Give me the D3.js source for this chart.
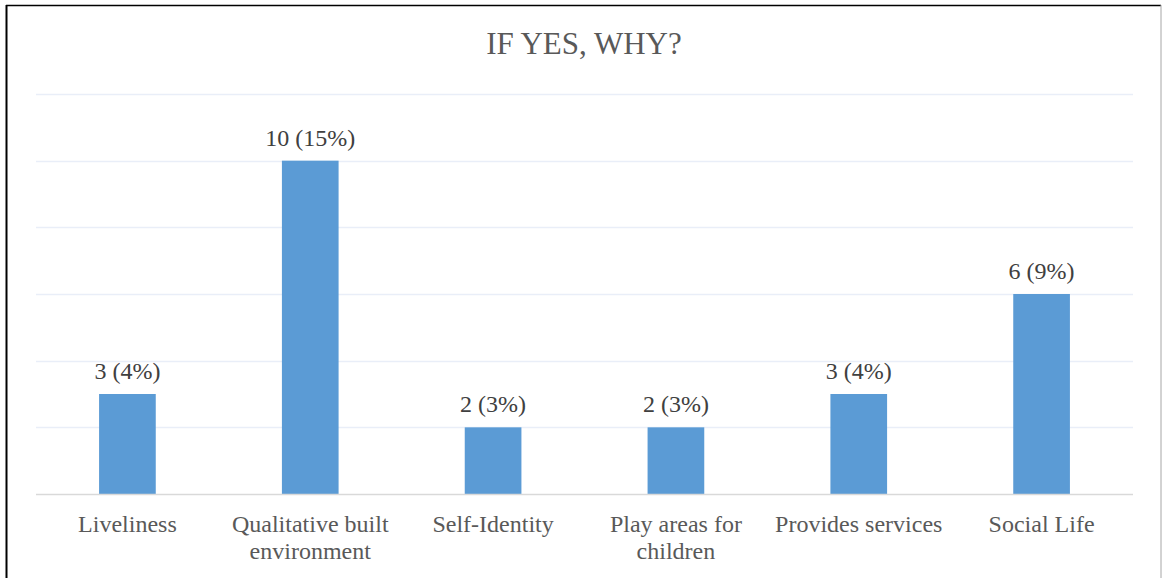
<!DOCTYPE html>
<html>
<head>
<meta charset="utf-8">
<script src="https://cdn.jsdelivr.net/npm/d3@7"></script>
<style>
  html, body { margin: 0; padding: 0; background: #fff; }
  svg { display: block; }
  svg text { font-family: "Liberation Serif", "Times New Roman", Times, "DejaVu Serif", serif; }
</style>
</head>
<body>
<script>
// Reasons given for answering "yes"
const categories = [
  ["Liveliness"],
  ["Qualitative built", "environment"],
  ["Self-Identity"],
  ["Play areas for", "children"],
  ["Provides services"],
  ["Social Life"]
];
const counts = [3, 10, 2, 2, 3, 6];
const percents = ["4%", "15%", "3%", "3%", "4%", "9%"];
const gridTicks = [0, 2, 4, 6, 8, 10, 12];
const title = "IF YES, WHY?";

const W = 1162, H = 578;
const margin = { left: 36, right: 29, top: 94, bottom: 84 };

const svg = d3.select("body").append("svg")
  .attr("width", W).attr("height", H);

// chart frame
svg.append("line").attr("x1", 6.5).attr("x2", 6.5).attr("y1", 5).attr("y2", H)
  .attr("stroke", "#000").attr("stroke-width", 2);
svg.append("line").attr("x1", 6).attr("x2", 1161).attr("y1", 5.5).attr("y2", 5.5)
  .attr("stroke", "#000").attr("stroke-width", 1.5);
svg.append("line").attr("x1", 1161).attr("x2", 1161).attr("y1", 5).attr("y2", H)
  .attr("stroke", "#a6a6a6").attr("stroke-width", 1);

const x = d3.scaleBand()
  .domain(d3.range(categories.length))
  .range([margin.left, W - margin.right])
  .paddingInner(0.69).paddingOuter(0.345);

const y = d3.scaleLinear()
  .domain([0, 12])
  .range([H - margin.bottom, margin.top]);

// title
svg.append("text")
  .attr("x", W / 2 + 3).attr("y", 54)
  .attr("text-anchor", "middle")
  .attr("font-size", 31)
  .attr("fill", "#595959")
  .text(title);

// horizontal gridlines
svg.append("g").selectAll("line")
  .data(gridTicks.filter(d => d > 0))
  .join("line")
  .attr("x1", margin.left).attr("x2", W - margin.right)
  .attr("y1", d => Math.round(y(d)) + 0.5).attr("y2", d => Math.round(y(d)) + 0.5)
  .attr("stroke", "#e9eef8").attr("stroke-width", 1.5);

// bars
svg.append("g").selectAll("rect")
  .data(counts)
  .join("rect")
  .attr("x", (d, i) => x(i))
  .attr("width", x.bandwidth())
  .attr("y", d => y(d))
  .attr("height", d => y(0) - y(d))
  .attr("fill", "#5b9bd5");

// baseline
svg.append("line")
  .attr("x1", margin.left).attr("x2", W - margin.right)
  .attr("y1", y(0) + 0.5).attr("y2", y(0) + 0.5)
  .attr("stroke", "#d9d9d9").attr("stroke-width", 1.5);

// value labels
svg.append("g").selectAll("text")
  .data(counts)
  .join("text")
  .attr("x", (d, i) => x(i) + x.bandwidth() / 2)
  .attr("y", d => y(d) - 15)
  .attr("text-anchor", "middle")
  .attr("font-size", 24)
  .attr("fill", "#404040")
  .text((d, i) => `${d} (${percents[i]})`);

// category labels
const cat = svg.append("g").selectAll("text")
  .data(categories)
  .join("text")
  .attr("x", (d, i) => x(i) + x.bandwidth() / 2)
  .attr("y", 532)
  .attr("text-anchor", "middle")
  .attr("font-size", 24)
  .attr("fill", "#595959");
cat.selectAll("tspan")
  .data(d => d)
  .join("tspan")
  .attr("x", function () { return d3.select(this.parentNode).attr("x"); })
  .attr("dy", (d, i) => i === 0 ? 0 : 27)
  .text(d => d);
</script>
</body>
</html>
